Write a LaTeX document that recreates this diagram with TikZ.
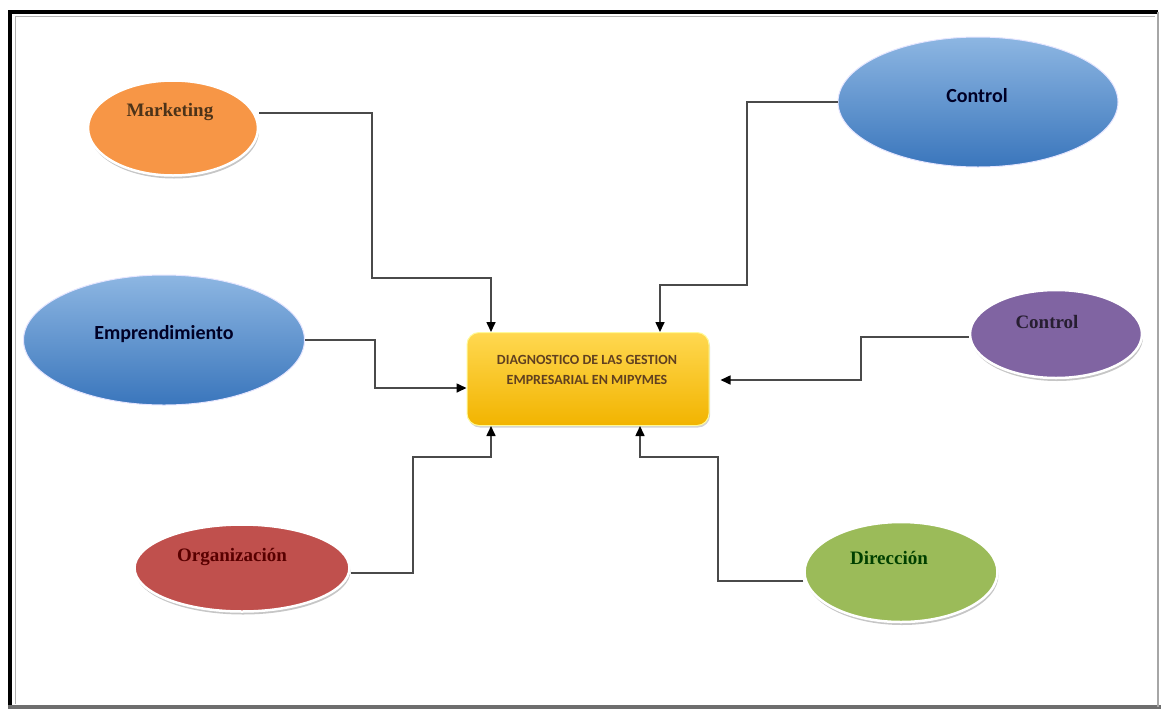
\documentclass[tikz,border=0pt]{standalone}
\usepackage{fontspec}
\setmainfont{Liberation Serif}
\newfontfamily\calib{Carlito}
\usetikzlibrary{shapes.geometric,arrows.meta,shadows}
\definecolor{orangeF}{HTML}{F79646}
\definecolor{purpleF}{HTML}{8064A2}
\definecolor{redF}{HTML}{C0504D}
\definecolor{greenF}{HTML}{9BBB59}
\definecolor{blueT}{HTML}{8DB6E2}
\definecolor{blueB}{HTML}{3A76BC}
\definecolor{goldT}{HTML}{FFD850}
\definecolor{goldB}{HTML}{F2B400}
\definecolor{connC}{HTML}{4A4A4A}
\definecolor{frameG}{HTML}{6E6E6E}
\tikzset{
  oval/.style={ellipse, draw=white, line width=2.5pt, inner sep=0pt,
    drop shadow={shadow xshift=1pt, shadow yshift=-3pt, opacity=0.45, fill=gray}},
  blueoval/.style={ellipse, draw=white!90!blue, line width=1pt, inner sep=0pt,
    top color=blueT, bottom color=blueB},
  serlbl/.style={font=\bfseries\fontsize{19}{21}\selectfont},
  callbl/.style={font=\calib\bfseries\fontsize{20}{22}\selectfont, text=black!85!blue},
  conn/.style={draw=connC, line width=1.6pt, -{Triangle[length=10pt,width=9pt,color=black,fill=black]}},
}
\begin{document}
\begin{tikzpicture}[x=1pt,y=-1pt]
\useasboundingbox (0,0) rectangle (1161,710);
% frame
\draw[black, line width=4pt] (10,707) -- (10,12) -- (1158,12);
\draw[frameG, line width=4pt] (8,707) -- (1161,707);
\draw[gray!70, line width=1.2pt] (1158,12) -- (1158,707);
\draw[gray!60, line width=0.8pt] (15,704) -- (15,16) -- (1155,16);
% central box
\node[rounded corners=12pt, minimum width=242pt, minimum height=93pt,
  top color=goldT, bottom color=goldB, draw=yellow!40!white, line width=1pt,
  drop shadow={shadow xshift=1pt, shadow yshift=-2pt, opacity=0.35, fill=gray}]
  (bx) at (588,379) {};
\node[font=\calib\bfseries\fontsize{14}{20}\selectfont, text=brown!50!black, align=center]
  (bxt) at (587,370) {DIAGNOSTICO DE LAS GESTION\\EMPRESARIAL EN MIPYMES};
% ellipses
\node[oval, fill=orangeF, minimum width=170pt, minimum height=95pt] (mk) at (173,128) {};
\node[serlbl, text=brown!40!black] (mkt) at (170,112) {Marketing};
\node[blueoval, minimum width=281pt, minimum height=130pt] (em) at (164,340) {};
\node[callbl] (emt) at (164,334) {Emprendimiento};
\node[blueoval, minimum width=280pt, minimum height=130pt] (ct) at (978,102) {};
\node[callbl] (ctt) at (977,96) {Control};
\node[oval, fill=purpleF, minimum width=172pt, minimum height=88pt] (cp) at (1056,334) {};
\node[serlbl, text=black!70!purpleF] (cpt) at (1047,322) {Control};
\node[oval, fill=redF, minimum width=215pt, minimum height=87pt] (og) at (242,568) {};
\node[serlbl, text=black!65!red] (ogt) at (232,557) {Organización};
\node[oval, fill=greenF, minimum width=193pt, minimum height=100pt] (dr) at (901,572) {};
\node[serlbl, text=black!75!green] (drt) at (889,558) {Dirección};
% connectors
\draw[conn] ([yshift=15pt]mk.east) -| (372,278) -| ([xshift=-97pt]bx.north);
\draw[conn] (em.east) -| (375,388) -- ([yshift=-9pt]bx.west);
\draw[conn] (ct.west) -| (747,285) -| ([xshift=72pt]bx.north);
\draw[conn, shorten >=11pt] ([yshift=-3pt]cp.west) -| (861,380) -- ([yshift=-1pt]bx.east);
\draw[conn] ([yshift=-5pt]og.east) -| (413,457) -| ([xshift=-97pt]bx.south);
\draw[conn] ([yshift=-9pt]dr.west) -| (718,457) -| ([xshift=52pt]bx.south);
\end{tikzpicture}
\end{document}
